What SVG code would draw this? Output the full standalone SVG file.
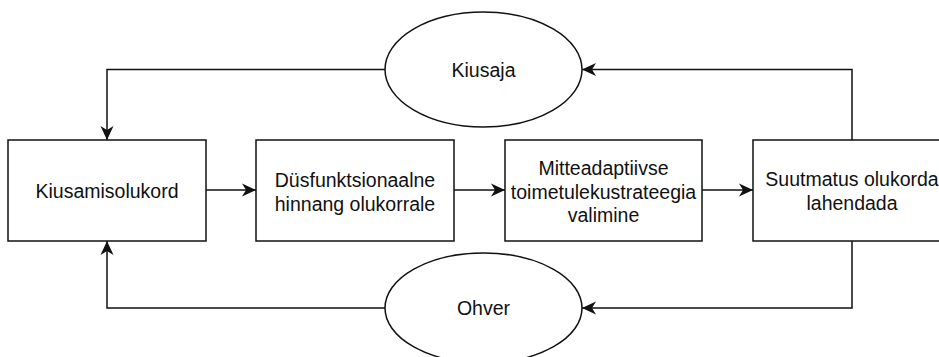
<svg xmlns="http://www.w3.org/2000/svg" width="939" height="357" viewBox="0 0 939 357">
<style>
.n{fill:#fff;stroke:#111;stroke-width:1.5}
.t{font-family:"Liberation Sans",Arial,sans-serif;font-size:19.5px;fill:#111;text-anchor:middle}
.c{fill:none;stroke:#111;stroke-width:1.5}
</style>
<defs>
<marker id="a" markerUnits="userSpaceOnUse" markerWidth="16" markerHeight="16" refX="14" refY="7" orient="auto">
<path d="M0,0.5 L14,7 L0,13.5 L4,7 z" fill="#111"/>
</marker>
</defs>
<rect width="939" height="357" fill="#fff"/>
<g id="connectors">
<path class="c" d="M385,69.5 H107 V140" marker-end="url(#a)"/>
<path class="c" d="M852,140 V69.5 H582" marker-end="url(#a)"/>
<path class="c" d="M852,241 V308 H582" marker-end="url(#a)"/>
<path class="c" d="M385,308 H107 V241" marker-end="url(#a)"/>
<path class="c" d="M206,190 H256" marker-end="url(#a)"/>
<path class="c" d="M454,190 H505" marker-end="url(#a)"/>
<path class="c" d="M702,190 H753" marker-end="url(#a)"/>
</g>
<g id="kiusaja">
<ellipse class="n" cx="483.5" cy="69.5" rx="98.5" ry="57.5"/>
<text class="t" x="483.5" y="77">Kiusaja</text>
</g>
<g id="ohver">
<ellipse class="n" cx="483.5" cy="308" rx="98.5" ry="55"/>
<text class="t" x="483.5" y="315">Ohver</text>
</g>
<g id="kiusamisolukord">
<rect class="n" x="8" y="140" width="198" height="101"/>
<text class="t" x="107" y="197.5">Kiusamisolukord</text>
</g>
<g id="hinnang">
<rect class="n" x="256" y="140" width="198" height="101"/>
<text class="t" x="355" y="186.5">Düsfunktsionaalne</text>
<text class="t" x="355" y="210.5">hinnang olukorrale</text>
</g>
<g id="strateegia">
<rect class="n" x="505" y="140" width="197" height="101"/>
<text class="t" x="603.5" y="175">Mitteadaptiivse</text>
<text class="t" x="603.5" y="198.5">toimetulekustrateegia</text>
<text class="t" x="603.5" y="222">valimine</text>
</g>
<g id="suutmatus">
<rect class="n" x="753" y="140" width="198" height="101"/>
<text class="t" x="852" y="185.5">Suutmatus olukorda</text>
<text class="t" x="852" y="209.5">lahendada</text>
</g>
</svg>
